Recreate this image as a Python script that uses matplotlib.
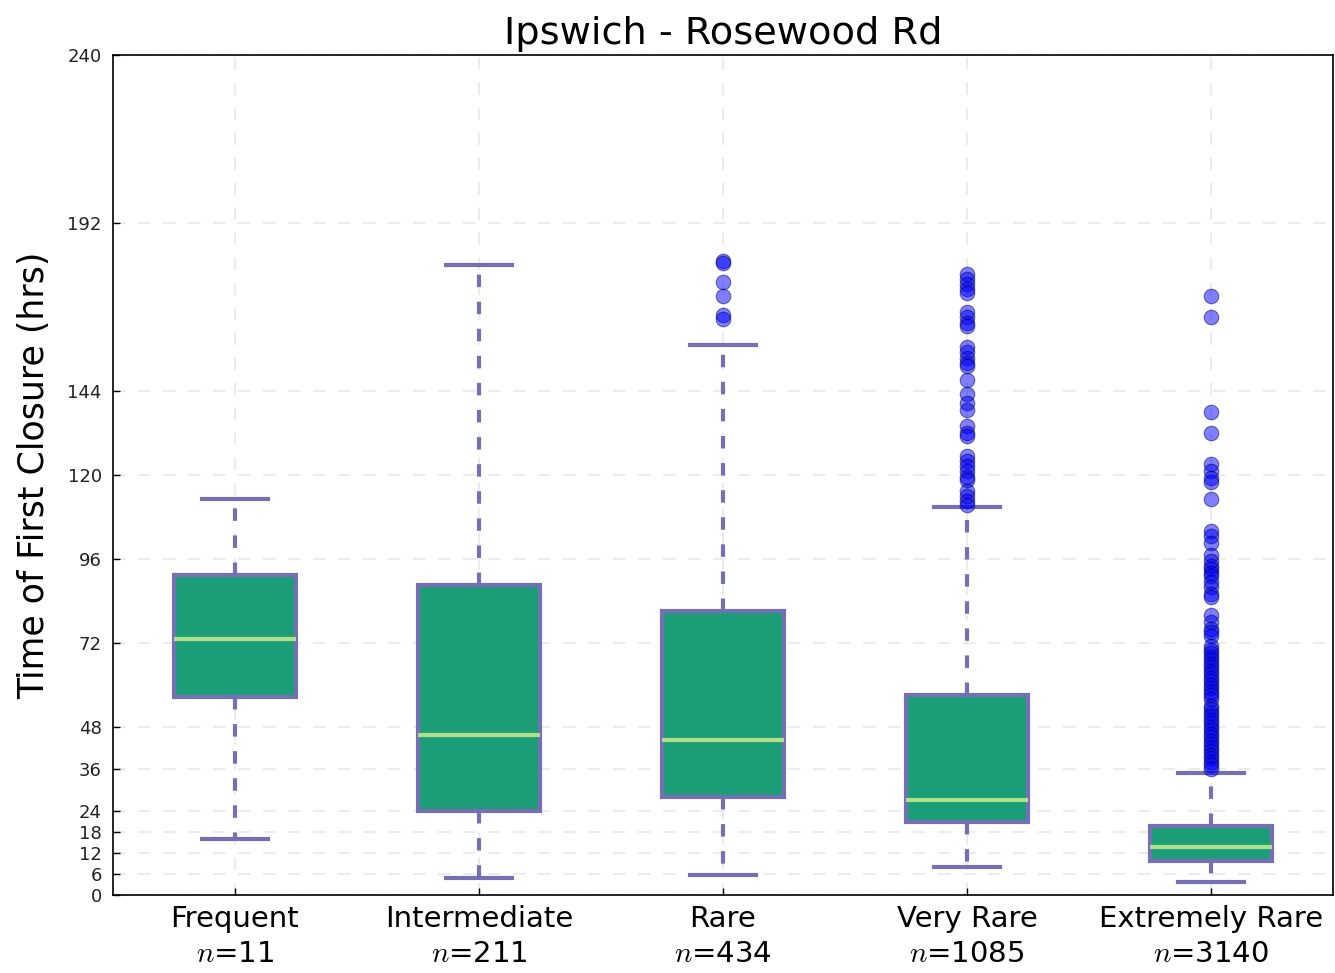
import matplotlib
matplotlib.use("Agg")
import matplotlib.pyplot as plt

plt.rcParams["mathtext.fontset"] = "cm"

categories = ["Frequent", "Intermediate", "Rare", "Very Rare", "Extremely Rare"]
counts = [11, 211, 434, 1085, 3140]
whislo = [16.0, 4.9, 5.7, 8.0, 3.7]
q1 = [56.6, 24.0, 28.0, 20.9, 9.7]
med = [73.1, 45.7, 44.3, 27.1, 13.7]
q3 = [91.4, 88.6, 81.1, 57.1, 19.7]
whishi = [113.1, 180.0, 157.1, 110.9, 34.9]
fliers_frequent = []
fliers_intermediate = []
fliers_rare = [181.0, 180.5, 175.0, 171.0, 165.7, 164.5]
fliers_very_rare = [177.5, 176, 174.5, 173, 172, 166.5, 165, 163.5, 162.5,
                    156.5, 155, 153.5, 152, 151, 147, 143, 140.5, 138.5,
                    134, 132, 131, 125.5, 124, 122.5, 121, 119.5, 118.5,
                    115.5, 114, 112.5, 111.5]
fliers_extremely_rare = [171, 165, 138, 132, 123, 121, 119, 118, 113, 104,
                         102.5, 100.5, 97, 95.5, 94, 93, 92, 91, 89.5, 88,
                         86, 85, 80, 78, 76, 75, 74, 71, 70, 69, 68, 67, 66,
                         65, 64, 63, 62, 61, 60, 59, 58, 57, 56, 54, 53, 52,
                         51, 50, 49, 48, 47, 46, 45, 44, 43, 42, 41, 40, 39,
                         38, 37, 36]
yticks = [0, 6, 12, 18, 24, 36, 48, 72, 96, 120, 144, 192, 240]

fliers = [fliers_frequent, fliers_intermediate, fliers_rare,
          fliers_very_rare, fliers_extremely_rare]

stats = []
for i in range(len(categories)):
    stats.append(dict(whislo=whislo[i], q1=q1[i], med=med[i], q3=q3[i],
                      whishi=whishi[i], fliers=fliers[i]))

fig = plt.figure(figsize=(13.35, 9.73), dpi=100)
ax = fig.add_axes([0.0846, 0.0802, 0.9139, 0.8633])

edge = "#7570b3"
bp = ax.bxp(stats, positions=range(1, 6), widths=0.5, patch_artist=True,
            showfliers=True, capwidths=0.27,
            boxprops=dict(facecolor="#1b9e77", edgecolor=edge, linewidth=3),
            medianprops=dict(color="#b2df8a", linewidth=3),
            whiskerprops=dict(color=edge, linewidth=3, linestyle=(0, (3, 3.5))),
            capprops=dict(color=edge, linewidth=3),
            flierprops=dict(marker="o", markerfacecolor="blue", markeredgecolor="#000044",
                            markeredgewidth=0.8, alpha=0.5, markersize=10.5,
                            linestyle="none"))

ax.set_xlim(0.5, 5.5)
ax.set_ylim(0, 240)
ax.set_yticks(yticks)
ax.set_yticklabels([str(t) for t in yticks], fontsize=13, color="#222222")
ax.set_xticks(range(1, 6))
ax.set_xticklabels([f"{c}\n$n$={n}" for c, n in zip(categories, counts)],
                   fontsize=21, linespacing=1.35)
ax.tick_params(axis="both", direction="in", length=5, width=1,
               top=False, right=False)
ax.tick_params(axis="x", pad=7)
ax.tick_params(axis="y", pad=8)
ax.grid(True, color="#ececec", linestyle=(0, (6, 6)), linewidth=1.5)
ax.set_axisbelow(True)
for s in ax.spines.values():
    s.set_linewidth(1.2)

ax.set_title("Ipswich - Rosewood Rd", fontsize=27.5, pad=8)
ax.set_ylabel("Time of First Closure (hrs)", fontsize=25, labelpad=12)

fig.savefig("out.png", dpi=100)
